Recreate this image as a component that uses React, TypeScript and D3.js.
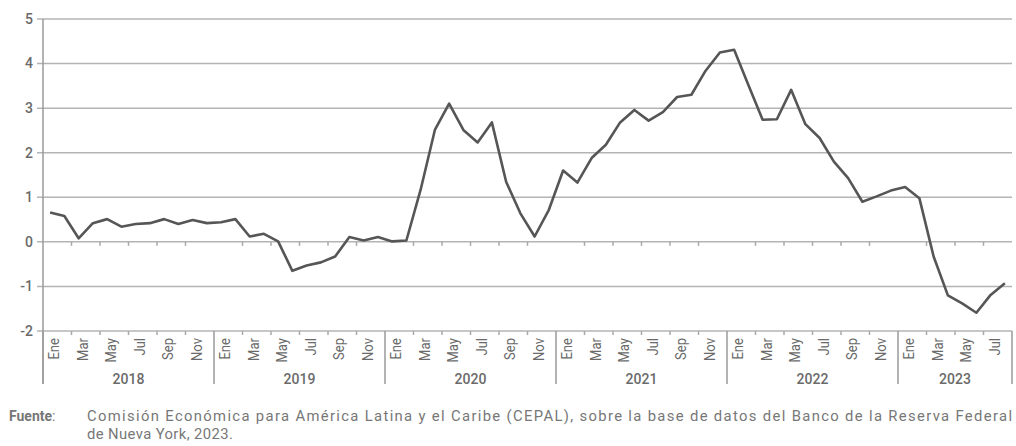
import React, { useRef, useEffect } from 'react';
import * as d3 from 'd3';

const years = ['2018', '2019', '2020', '2021', '2022', '2023'];
const monthNames = ['Ene', 'Feb', 'Mar', 'Abr', 'May', 'Jun', 'Jul', 'Ago', 'Sep', 'Oct', 'Nov', 'Dic'];

// monthly values, Jan 2018 - Aug 2023
const values2018 = [0.66, 0.58, 0.08, 0.42, 0.51, 0.34, 0.40, 0.42, 0.51, 0.40, 0.49, 0.42];
const values2019 = [0.44, 0.51, 0.12, 0.18, 0.01, -0.65, -0.53, -0.46, -0.33, 0.11, 0.03, 0.11];
const values2020 = [0.01, 0.03, 1.17, 2.51, 3.10, 2.51, 2.23, 2.68, 1.35, 0.64, 0.12, 0.72];
const values2021 = [1.60, 1.33, 1.88, 2.18, 2.68, 2.96, 2.72, 2.91, 3.25, 3.30, 3.84, 4.25];
const values2022 = [4.31, 3.52, 2.74, 2.75, 3.41, 2.64, 2.33, 1.80, 1.43, 0.90, 1.02, 1.15];
const values2023 = [1.23, 0.98, -0.33, -1.20, -1.38, -1.59, -1.19, -0.93];

const yTicks = [5, 4, 3, 2, 1, 0, -1, -2];

const sourceLabel = 'Fuente';
const sourceLine1 = 'Comisión Económica para América Latina y el Caribe (CEPAL), sobre la base de datos del Banco de la Reserva Federal';
const sourceLine2 = 'de Nueva York, 2023.';

interface Point {
  key: string;
  year: string;
  month: number;
  value: number;
}

const allValues = [values2018, values2019, values2020, values2021, values2022, values2023];
const data: Point[] = [];
allValues.forEach((vals, yi) => {
  vals.forEach((v, m) => {
    data.push({ key: `${years[yi]}-${m}`, year: years[yi], month: m, value: v });
  });
});

const App: React.FC = () => {
  const svgRef = useRef<SVGSVGElement | null>(null);
  const width = 1016;
  const height = 446;

  useEffect(() => {
    if (!svgRef.current) return;
    const svg = d3.select(svgRef.current);
    svg.selectAll('*').remove();

    const left = 43;
    const right = 1012;
    const top = 19;
    const bottom = 331;
    const textColor = '#6a6a6a';

    const x = d3.scaleBand<string>()
      .domain(data.map(d => d.key))
      .range([left, right])
      .padding(0);

    const y = d3.scaleLinear()
      .domain([-2, 5])
      .range([bottom, top]);

    const cx = (d: Point) => (x(d.key) as number) + x.bandwidth() / 2;

    // Grid lines
    svg.append('g')
      .selectAll('line')
      .data(yTicks)
      .join('line')
      .attr('x1', left - 6)
      .attr('x2', right)
      .attr('y1', d => y(d))
      .attr('y2', d => y(d))
      .attr('stroke', '#b4b4b4')
      .attr('stroke-width', 1.5);

    // Y labels
    svg.append('g')
      .selectAll('text')
      .data(yTicks)
      .join('text')
      .attr('x', 33)
      .attr('y', d => y(d))
      .attr('dy', '0.35em')
      .attr('text-anchor', 'end')
      .attr('font-family', 'Roboto, sans-serif')
      .attr('font-size', 14)
      .attr('font-weight', 500)
      .attr('fill', textColor)
      .text(d => String(d));

    // Y axis line
    svg.append('line')
      .attr('x1', left)
      .attr('x2', left)
      .attr('y1', top)
      .attr('y2', 384)
      .attr('stroke', '#9a9a9a')
      .attr('stroke-width', 1.5);

    // Two-month ticks on zero line and bottom axis
    const tickData = data.filter(d => d.month % 2 === 0 && d.month !== 0);
    [0, -2].forEach(v => {
      svg.append('g')
        .selectAll('line')
        .data(tickData)
        .join('line')
        .attr('x1', d => x(d.key) as number)
        .attr('x2', d => x(d.key) as number)
        .attr('y1', y(v))
        .attr('y2', y(v) + 4)
        .attr('stroke', '#a8a8a8')
        .attr('stroke-width', 1.5);
    });

    // Year separators
    const yearStarts = data.filter(d => d.month === 0).map(d => x(d.key) as number);
    yearStarts.push(right);
    svg.append('g')
      .selectAll('line')
      .data(yearStarts)
      .join('line')
      .attr('x1', d => d)
      .attr('x2', d => d)
      .attr('y1', bottom)
      .attr('y2', 384)
      .attr('stroke', '#9a9a9a')
      .attr('stroke-width', 1.5);

    // Month labels (rotated, shifted a little right of the band centre)
    svg.append('g')
      .selectAll('text')
      .data(data.filter(d => d.month % 2 === 0))
      .join('text')
      .attr('transform', d => `translate(${cx(d)},${bottom + 7}) rotate(-90) scale(0.9,1)`)
      .attr('dy', '0.62em')
      .attr('text-anchor', 'end')
      .attr('font-family', 'Roboto, sans-serif')
      .attr('font-size', 14.5)
      .attr('fill', textColor)
      .text(d => monthNames[d.month]);

    // Year labels
    svg.append('g')
      .selectAll('text')
      .data(years)
      .join('text')
      .attr('x', (d, i) => (yearStarts[i] + yearStarts[i + 1]) / 2)
      .attr('y', 379)
      .attr('dy', '0.35em')
      .attr('text-anchor', 'middle')
      .attr('font-family', 'Roboto, sans-serif')
      .attr('font-size', 14)
      .attr('font-weight', 500)
      .attr('fill', textColor)
      .text(d => d);

    // Series line
    const line = d3.line<Point>()
      .x(d => cx(d))
      .y(d => y(d.value));

    svg.append('path')
      .datum(data)
      .attr('fill', 'none')
      .attr('stroke', '#565656')
      .attr('stroke-width', 2.6)
      .attr('stroke-linejoin', 'round')
      .attr('d', line);

    // Source note
    const note = svg.append('text')
      .attr('x', 9)
      .attr('y', 421)
      .attr('font-family', 'Roboto, sans-serif')
      .attr('font-size', 14)
      .attr('fill', '#777');
    note.append('tspan').attr('font-weight', 'bold').text(sourceLabel);
    note.append('tspan').text(':');

    svg.append('text')
      .attr('x', 87)
      .attr('y', 421)
      .attr('font-family', 'Roboto, sans-serif')
      .attr('font-size', 14.8)
      .attr('fill', '#777')
      .attr('textLength', 925)
      .attr('lengthAdjust', 'spacing')
      .text(sourceLine1);

    svg.append('text')
      .attr('x', 87)
      .attr('y', 439)
      .attr('font-family', 'Roboto, sans-serif')
      .attr('font-size', 14.8)
      .attr('fill', '#777')
      .attr('letter-spacing', 0.4)
      .text(sourceLine2);
  }, []);

  return (
    <svg
      ref={svgRef}
      width={width}
      height={height}
      style={{ position: 'absolute', left: 0, top: 0, background: '#fff' }}
    />
  );
};

export default App;
